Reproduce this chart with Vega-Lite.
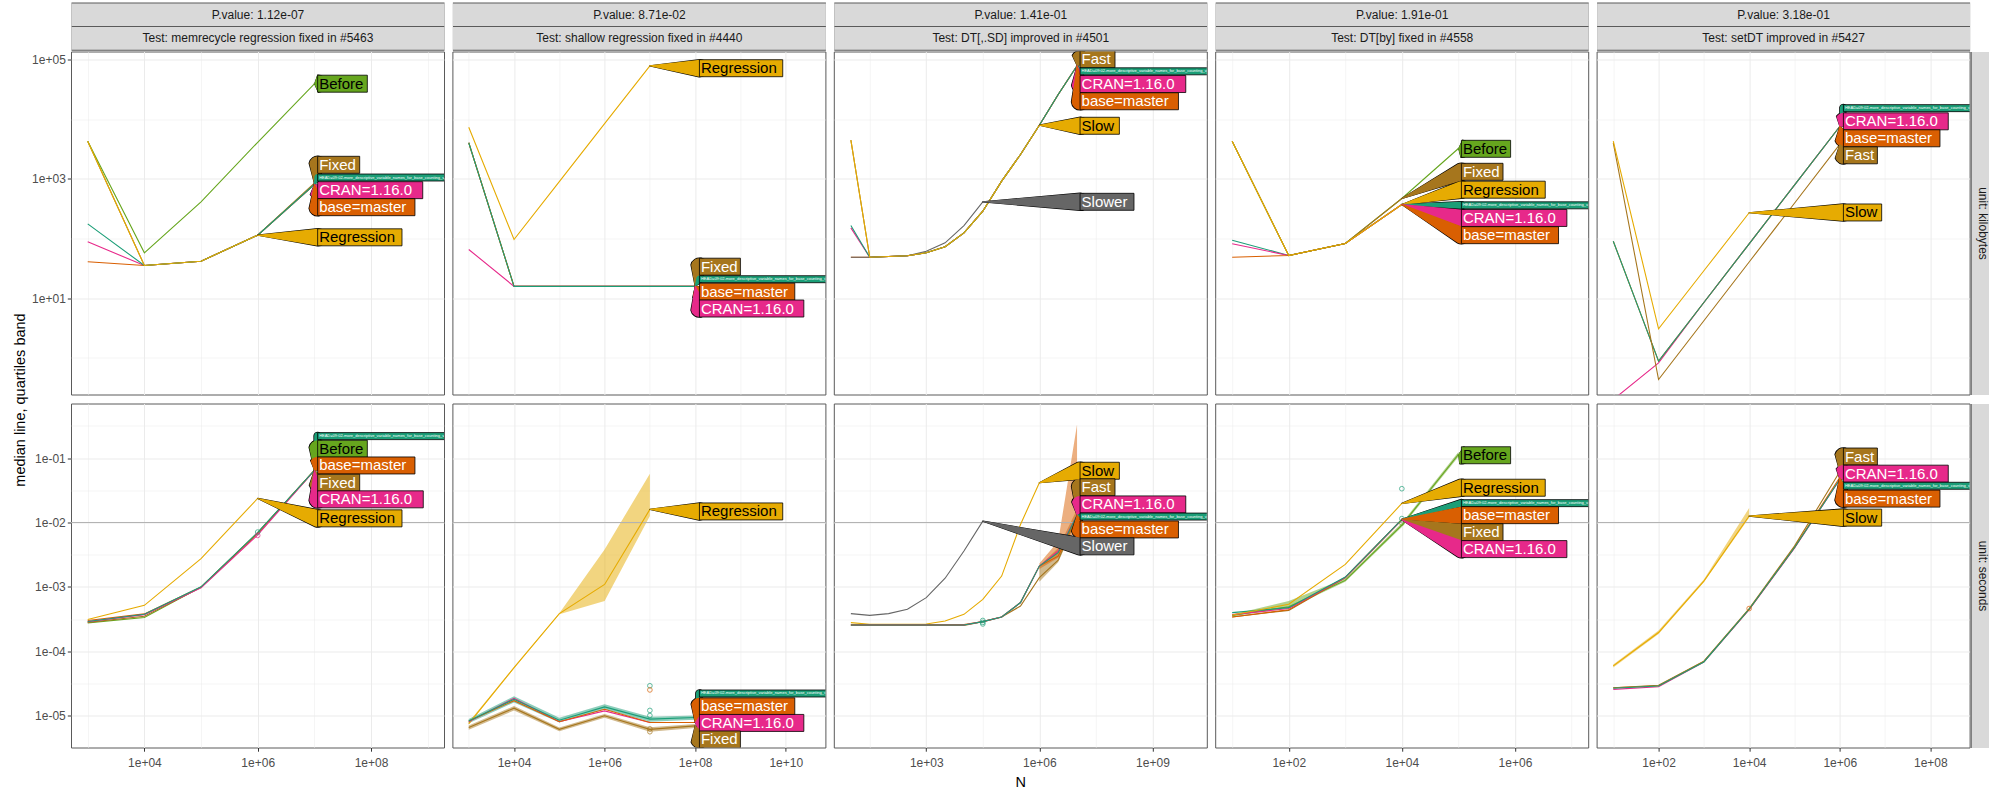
{
"$schema":"https://vega.github.io/schema/vega-lite/v6.json",
"padding":{"left":11,"top":7.5,"right":0,"bottom":0},
"background":"white",
"columns":5,
"spacing":{"row":9,"column":8.4},
"bounds":"flush",
"config":{
"font":"Liberation Sans",
"view":{"stroke":"#5a5a5a","strokeWidth":1,"fill":"white"},
"axis":{"labelFont":"Liberation Sans","labelFontSize":12,"labelColor":"#4d4d4d","tickColor":"#333333","tickSize":3.7,"tickWidth":1,"gridColor":"#ebebeb","labelPadding":2,"titleFont":"Liberation Sans","titleFontSize":14.5,"titleFontWeight":"normal","titleColor":"#000000"},
"axisBottom":{"labelPadding":6},
"legend":{"disable":true},
"text":{"font":"Liberation Sans"}
},
"datasets":{
"lines":[
{"p":"A1","s":"CRAN","N":1e3,"m":88},{"p":"A1","s":"CRAN","N":1e4,"m":35.3},{"p":"A1","s":"CRAN","N":1e5,"m":41.7},{"p":"A1","s":"CRAN","N":1e6,"m":113.7},{"p":"A1","s":"CRAN","N":1e7,"m":804},
{"p":"A1","s":"base","N":1e3,"m":40.7},{"p":"A1","s":"base","N":1e4,"m":35.3},{"p":"A1","s":"base","N":1e5,"m":41.7},{"p":"A1","s":"base","N":1e6,"m":113.7},{"p":"A1","s":"base","N":1e7,"m":804},
{"p":"A1","s":"Fixed","N":1e3,"m":4275},{"p":"A1","s":"Fixed","N":1e4,"m":35.3},{"p":"A1","s":"Fixed","N":1e5,"m":41.7},{"p":"A1","s":"Fixed","N":1e6,"m":113.7},{"p":"A1","s":"Fixed","N":1e7,"m":850},
{"p":"A1","s":"HEAD","N":1e3,"m":176},{"p":"A1","s":"HEAD","N":1e4,"m":35.3},{"p":"A1","s":"HEAD","N":1e5,"m":41.7},{"p":"A1","s":"HEAD","N":1e6,"m":113.7},{"p":"A1","s":"HEAD","N":1e7,"m":804},
{"p":"A1","s":"Before","N":1e3,"m":4275},{"p":"A1","s":"Before","N":1e4,"m":57.5},{"p":"A1","s":"Before","N":1e5,"m":412},{"p":"A1","s":"Before","N":1e6,"m":4100},{"p":"A1","s":"Before","N":1e7,"m":39100},
{"p":"A1","s":"Regression","N":1e3,"m":4275},{"p":"A1","s":"Regression","N":1e4,"m":35.3},{"p":"A1","s":"Regression","N":1e5,"m":41.7},{"p":"A1","s":"Regression","N":1e6,"m":113.7},

{"p":"A2","s":"Fixed","N":1e3,"m":4020},{"p":"A2","s":"Fixed","N":1e4,"m":15.8},{"p":"A2","s":"Fixed","N":1e5,"m":15.8},{"p":"A2","s":"Fixed","N":1e6,"m":15.8},{"p":"A2","s":"Fixed","N":1e7,"m":15.8},{"p":"A2","s":"Fixed","N":1e8,"m":15.8},
{"p":"A2","s":"base","N":1e3,"m":4020},{"p":"A2","s":"base","N":1e4,"m":15.8},{"p":"A2","s":"base","N":1e5,"m":15.8},{"p":"A2","s":"base","N":1e6,"m":15.8},{"p":"A2","s":"base","N":1e7,"m":15.8},{"p":"A2","s":"base","N":1e8,"m":15.8},
{"p":"A2","s":"CRAN","N":1e3,"m":65.5},{"p":"A2","s":"CRAN","N":1e4,"m":15.8},{"p":"A2","s":"CRAN","N":1e5,"m":15.8},{"p":"A2","s":"CRAN","N":1e6,"m":15.8},{"p":"A2","s":"CRAN","N":1e7,"m":15.8},{"p":"A2","s":"CRAN","N":1e8,"m":15.8},
{"p":"A2","s":"HEAD","N":1e3,"m":4020},{"p":"A2","s":"HEAD","N":1e4,"m":15.8},{"p":"A2","s":"HEAD","N":1e5,"m":15.8},{"p":"A2","s":"HEAD","N":1e6,"m":15.8},{"p":"A2","s":"HEAD","N":1e7,"m":15.8},{"p":"A2","s":"HEAD","N":1e8,"m":15.8},
{"p":"A2","s":"Regression","N":1e3,"m":7330},{"p":"A2","s":"Regression","N":1e4,"m":96.2},{"p":"A2","s":"Regression","N":1e5,"m":900},{"p":"A2","s":"Regression","N":1e6,"m":8400},{"p":"A2","s":"Regression","N":1e7,"m":78400},

{"p":"A3","s":"CRAN","N":10,"m":151},{"p":"A3","s":"CRAN","N":31.62,"m":48.6},{"p":"A3","s":"CRAN","N":100,"m":50},{"p":"A3","s":"CRAN","N":316.2,"m":51.3},{"p":"A3","s":"CRAN","N":1000,"m":57.7},{"p":"A3","s":"CRAN","N":3162,"m":72.6},{"p":"A3","s":"CRAN","N":1e4,"m":124},{"p":"A3","s":"CRAN","N":31623,"m":287},{"p":"A3","s":"CRAN","N":1e5,"m":914},{"p":"A3","s":"CRAN","N":316228,"m":2560},{"p":"A3","s":"CRAN","N":1e6,"m":7930},{"p":"A3","s":"CRAN","N":3162278,"m":25900},{"p":"A3","s":"CRAN","N":1e7,"m":78400},
{"p":"A3","s":"base","N":10,"m":48.6},{"p":"A3","s":"base","N":31.62,"m":48.6},{"p":"A3","s":"base","N":100,"m":50},{"p":"A3","s":"base","N":316.2,"m":51.3},{"p":"A3","s":"base","N":1000,"m":57.7},{"p":"A3","s":"base","N":3162,"m":72.6},{"p":"A3","s":"base","N":1e4,"m":124},{"p":"A3","s":"base","N":31623,"m":287},{"p":"A3","s":"base","N":1e5,"m":914},{"p":"A3","s":"base","N":316228,"m":2560},{"p":"A3","s":"base","N":1e6,"m":7930},{"p":"A3","s":"base","N":3162278,"m":25900},{"p":"A3","s":"base","N":1e7,"m":78400},
{"p":"A3","s":"Fast","N":10,"m":4450},{"p":"A3","s":"Fast","N":31.62,"m":48.6},{"p":"A3","s":"Fast","N":100,"m":50},{"p":"A3","s":"Fast","N":316.2,"m":51.3},{"p":"A3","s":"Fast","N":1000,"m":57.7},{"p":"A3","s":"Fast","N":3162,"m":72.6},{"p":"A3","s":"Fast","N":1e4,"m":124},{"p":"A3","s":"Fast","N":31623,"m":287},{"p":"A3","s":"Fast","N":1e5,"m":914},{"p":"A3","s":"Fast","N":316228,"m":2560},{"p":"A3","s":"Fast","N":1e6,"m":7930},{"p":"A3","s":"Fast","N":3162278,"m":25900},{"p":"A3","s":"Fast","N":1e7,"m":78400},
{"p":"A3","s":"HEAD","N":10,"m":165},{"p":"A3","s":"HEAD","N":31.62,"m":48.6},{"p":"A3","s":"HEAD","N":100,"m":50},{"p":"A3","s":"HEAD","N":316.2,"m":51.3},{"p":"A3","s":"HEAD","N":1000,"m":57.7},{"p":"A3","s":"HEAD","N":3162,"m":72.6},{"p":"A3","s":"HEAD","N":1e4,"m":124},{"p":"A3","s":"HEAD","N":31623,"m":287},{"p":"A3","s":"HEAD","N":1e5,"m":914},{"p":"A3","s":"HEAD","N":316228,"m":2560},{"p":"A3","s":"HEAD","N":1e6,"m":7930},{"p":"A3","s":"HEAD","N":3162278,"m":25900},{"p":"A3","s":"HEAD","N":1e7,"m":78400},
{"p":"A3","s":"Slower","N":10,"m":48.6},{"p":"A3","s":"Slower","N":31.62,"m":48.6},{"p":"A3","s":"Slower","N":100,"m":50},{"p":"A3","s":"Slower","N":316.2,"m":51.3},{"p":"A3","s":"Slower","N":1000,"m":61.2},{"p":"A3","s":"Slower","N":3162,"m":84.7},{"p":"A3","s":"Slower","N":1e4,"m":165},{"p":"A3","s":"Slower","N":31623,"m":412},
{"p":"A3","s":"Slow","N":10,"m":4450},{"p":"A3","s":"Slow","N":31.62,"m":48.6},{"p":"A3","s":"Slow","N":100,"m":50},{"p":"A3","s":"Slow","N":316.2,"m":51.3},{"p":"A3","s":"Slow","N":1000,"m":57.7},{"p":"A3","s":"Slow","N":3162,"m":72.6},{"p":"A3","s":"Slow","N":1e4,"m":124},{"p":"A3","s":"Slow","N":31623,"m":287},{"p":"A3","s":"Slow","N":1e5,"m":914},{"p":"A3","s":"Slow","N":316228,"m":2560},{"p":"A3","s":"Slow","N":1e6,"m":7930},

{"p":"A4","s":"HEAD","N":10,"m":93.7},{"p":"A4","s":"HEAD","N":100,"m":51.9},{"p":"A4","s":"HEAD","N":1000,"m":82.4},{"p":"A4","s":"HEAD","N":1e4,"m":372},
{"p":"A4","s":"CRAN","N":10,"m":81.5},{"p":"A4","s":"CRAN","N":100,"m":51.9},{"p":"A4","s":"CRAN","N":1000,"m":82.4},{"p":"A4","s":"CRAN","N":1e4,"m":372},
{"p":"A4","s":"base","N":10,"m":48.6},{"p":"A4","s":"base","N":100,"m":51.9},{"p":"A4","s":"base","N":1000,"m":82.4},{"p":"A4","s":"base","N":1e4,"m":372},
{"p":"A4","s":"Before","N":10,"m":4275},{"p":"A4","s":"Before","N":100,"m":51.9},{"p":"A4","s":"Before","N":1000,"m":82.4},{"p":"A4","s":"Before","N":1e4,"m":469},{"p":"A4","s":"Before","N":1e5,"m":3220},
{"p":"A4","s":"Fixed","N":10,"m":4275},{"p":"A4","s":"Fixed","N":100,"m":51.9},{"p":"A4","s":"Fixed","N":1000,"m":82.4},{"p":"A4","s":"Fixed","N":1e4,"m":469},
{"p":"A4","s":"Regression","N":10,"m":4275},{"p":"A4","s":"Regression","N":100,"m":51.9},{"p":"A4","s":"Regression","N":1000,"m":82.4},{"p":"A4","s":"Regression","N":1e4,"m":372},

{"p":"A5","s":"CRAN","N":10,"m":0.2},{"p":"A5","s":"CRAN","N":100,"m":0.826},{"p":"A5","s":"CRAN","N":1000,"m":8.47},{"p":"A5","s":"CRAN","N":1e4,"m":81.5},{"p":"A5","s":"CRAN","N":1e5,"m":783},{"p":"A5","s":"CRAN","N":1e6,"m":7530},
{"p":"A5","s":"base","N":10,"m":90.2},{"p":"A5","s":"base","N":100,"m":0.88},{"p":"A5","s":"base","N":1000,"m":8.47},{"p":"A5","s":"base","N":1e4,"m":81.5},{"p":"A5","s":"base","N":1e5,"m":783},{"p":"A5","s":"base","N":1e6,"m":7530},
{"p":"A5","s":"HEAD","N":10,"m":90.2},{"p":"A5","s":"HEAD","N":100,"m":0.88},{"p":"A5","s":"HEAD","N":1000,"m":8.47},{"p":"A5","s":"HEAD","N":1e4,"m":81.5},{"p":"A5","s":"HEAD","N":1e5,"m":783},{"p":"A5","s":"HEAD","N":1e6,"m":7530},
{"p":"A5","s":"Fast","N":10,"m":4020},{"p":"A5","s":"Fast","N":100,"m":0.434},{"p":"A5","s":"Fast","N":1000,"m":4.19},{"p":"A5","s":"Fast","N":1e4,"m":40.4},{"p":"A5","s":"Fast","N":1e5,"m":390},{"p":"A5","s":"Fast","N":1e6,"m":3770},
{"p":"A5","s":"Slow","N":10,"m":4275},{"p":"A5","s":"Slow","N":100,"m":3.07},{"p":"A5","s":"Slow","N":1000,"m":28.8},{"p":"A5","s":"Slow","N":1e4,"m":270},

{"p":"B1","s":"Before","N":1e3,"m":2.75e-4},{"p":"B1","s":"Before","N":1e4,"m":3.33e-4},{"p":"B1","s":"Before","N":1e5,"m":9.9e-4},{"p":"B1","s":"Before","N":1e6,"m":6.9e-3},{"p":"B1","s":"Before","N":1e7,"m":0.0644},
{"p":"B1","s":"Fixed","N":1e3,"m":2.8e-4},{"p":"B1","s":"Fixed","N":1e4,"m":3.5e-4},{"p":"B1","s":"Fixed","N":1e5,"m":9.8e-4},{"p":"B1","s":"Fixed","N":1e6,"m":6.8e-3},{"p":"B1","s":"Fixed","N":1e7,"m":0.0644},
{"p":"B1","s":"base","N":1e3,"m":3.0e-4},{"p":"B1","s":"base","N":1e4,"m":3.8e-4},{"p":"B1","s":"base","N":1e5,"m":9.9e-4},{"p":"B1","s":"base","N":1e6,"m":6.9e-3},{"p":"B1","s":"base","N":1e7,"m":0.0644},
{"p":"B1","s":"CRAN","N":1e3,"m":2.88e-4},{"p":"B1","s":"CRAN","N":1e4,"m":3.7e-4},{"p":"B1","s":"CRAN","N":1e5,"m":9.7e-4},{"p":"B1","s":"CRAN","N":1e6,"m":6.4e-3},{"p":"B1","s":"CRAN","N":1e7,"m":0.064},
{"p":"B1","s":"HEAD","N":1e3,"m":2.9e-4},{"p":"B1","s":"HEAD","N":1e4,"m":3.75e-4},{"p":"B1","s":"HEAD","N":1e5,"m":1.0e-3},{"p":"B1","s":"HEAD","N":1e6,"m":7.0e-3},{"p":"B1","s":"HEAD","N":1e7,"m":0.0644},
{"p":"B1","s":"Regression","N":1e3,"m":3.1e-4},{"p":"B1","s":"Regression","N":1e4,"m":5.16e-4},{"p":"B1","s":"Regression","N":1e5,"m":2.74e-3},{"p":"B1","s":"Regression","N":1e6,"m":0.0237},

{"p":"B2","s":"Regression","N":1e3,"m":7.5e-6,"lo":7.2e-6,"hi":7.9e-6},{"p":"B2","s":"Regression","N":1e4,"m":5.56e-5,"lo":5.4e-5,"hi":5.7e-5},{"p":"B2","s":"Regression","N":1e5,"m":3.83e-4,"lo":3.75e-4,"hi":3.9e-4},{"p":"B2","s":"Regression","N":1e6,"m":1.09e-3,"lo":6.03e-4,"hi":3.82e-3},{"p":"B2","s":"Regression","N":1e7,"m":0.016,"lo":0.0126,"hi":0.0573},
{"p":"B2","s":"Fixed","N":1e3,"m":6.5e-6,"lo":6.0e-6,"hi":7.0e-6},{"p":"B2","s":"Fixed","N":1e4,"m":1.3e-5,"lo":1.2e-5,"hi":1.4e-5},{"p":"B2","s":"Fixed","N":1e5,"m":6.1e-6,"lo":5.7e-6,"hi":6.5e-6},{"p":"B2","s":"Fixed","N":1e6,"m":9.9e-6,"lo":9.2e-6,"hi":1.06e-5},{"p":"B2","s":"Fixed","N":1e7,"m":6.1e-6,"lo":5.6e-6,"hi":6.6e-6},{"p":"B2","s":"Fixed","N":1e8,"m":6.9e-6,"lo":6.4e-6,"hi":7.4e-6},
{"p":"B2","s":"CRAN","N":1e3,"m":8.0e-6},{"p":"B2","s":"CRAN","N":1e4,"m":1.85e-5},{"p":"B2","s":"CRAN","N":1e5,"m":8.0e-6},{"p":"B2","s":"CRAN","N":1e6,"m":1.18e-5},{"p":"B2","s":"CRAN","N":1e7,"m":7.8e-6},{"p":"B2","s":"CRAN","N":1e8,"m":7.8e-6},
{"p":"B2","s":"base","N":1e3,"m":8.2e-6},{"p":"B2","s":"base","N":1e4,"m":1.7e-5},{"p":"B2","s":"base","N":1e5,"m":8.0e-6},{"p":"B2","s":"base","N":1e6,"m":1.25e-5},{"p":"B2","s":"base","N":1e7,"m":7.8e-6},{"p":"B2","s":"base","N":1e8,"m":7.8e-6},
{"p":"B2","s":"HEAD","N":1e3,"m":8.2e-6,"lo":7.6e-6,"hi":8.8e-6},{"p":"B2","s":"HEAD","N":1e4,"m":1.79e-5,"lo":1.6e-5,"hi":2.0e-5},{"p":"B2","s":"HEAD","N":1e5,"m":8.45e-6,"lo":7.8e-6,"hi":9.2e-6},{"p":"B2","s":"HEAD","N":1e6,"m":1.36e-5,"lo":1.25e-5,"hi":1.5e-5},{"p":"B2","s":"HEAD","N":1e7,"m":8.8e-6,"lo":8.0e-6,"hi":9.6e-6},{"p":"B2","s":"HEAD","N":1e8,"m":9.3e-6,"lo":8.6e-6,"hi":1.0e-5},

{"p":"B3","s":"Slower","N":10,"m":3.84e-4},{"p":"B3","s":"Slower","N":31.62,"m":3.6e-4},{"p":"B3","s":"Slower","N":100,"m":3.84e-4},{"p":"B3","s":"Slower","N":316.2,"m":4.48e-4},{"p":"B3","s":"Slower","N":1000,"m":6.8e-4},{"p":"B3","s":"Slower","N":3162,"m":1.36e-3},{"p":"B3","s":"Slower","N":1e4,"m":3.6e-3},{"p":"B3","s":"Slower","N":31623,"m":0.0105},
{"p":"B3","s":"Slow","N":10,"m":2.78e-4},{"p":"B3","s":"Slow","N":31.62,"m":2.62e-4},{"p":"B3","s":"Slow","N":100,"m":2.62e-4},{"p":"B3","s":"Slow","N":316.2,"m":2.62e-4},{"p":"B3","s":"Slow","N":1000,"m":2.65e-4},{"p":"B3","s":"Slow","N":3162,"m":2.94e-4},{"p":"B3","s":"Slow","N":1e4,"m":3.74e-4},{"p":"B3","s":"Slow","N":31623,"m":6.4e-4},{"p":"B3","s":"Slow","N":1e5,"m":1.47e-3},{"p":"B3","s":"Slow","N":316228,"m":9.3e-3},{"p":"B3","s":"Slow","N":1e6,"m":0.0415},
{"p":"B3","s":"Fast","N":10,"m":2.5e-4},{"p":"B3","s":"Fast","N":31.62,"m":2.5e-4},{"p":"B3","s":"Fast","N":100,"m":2.5e-4},{"p":"B3","s":"Fast","N":316.2,"m":2.5e-4},{"p":"B3","s":"Fast","N":1000,"m":2.5e-4},{"p":"B3","s":"Fast","N":3162,"m":2.5e-4},{"p":"B3","s":"Fast","N":1e4,"m":2.5e-4},{"p":"B3","s":"Fast","N":31623,"m":2.88e-4},{"p":"B3","s":"Fast","N":1e5,"m":3.4e-4},{"p":"B3","s":"Fast","N":316228,"m":5.03e-4},{"p":"B3","s":"Fast","N":1e6,"m":1.39e-3,"lo":1.2e-3,"hi":2.1e-3},{"p":"B3","s":"Fast","N":3162278,"m":2.6e-3,"lo":2.4e-3,"hi":4.0e-3},{"p":"B3","s":"Fast","N":1e7,"m":0.013,"lo":0.011,"hi":0.016},
{"p":"B3","s":"base","N":10,"m":2.6e-4},{"p":"B3","s":"base","N":31.62,"m":2.6e-4},{"p":"B3","s":"base","N":100,"m":2.6e-4},{"p":"B3","s":"base","N":316.2,"m":2.6e-4},{"p":"B3","s":"base","N":1000,"m":2.6e-4},{"p":"B3","s":"base","N":3162,"m":2.6e-4},{"p":"B3","s":"base","N":1e4,"m":2.6e-4},{"p":"B3","s":"base","N":31623,"m":2.88e-4},{"p":"B3","s":"base","N":1e5,"m":3.4e-4},{"p":"B3","s":"base","N":316228,"m":5.7e-4},{"p":"B3","s":"base","N":1e6,"m":2.1e-3,"lo":1.9e-3,"hi":2.3e-3},{"p":"B3","s":"base","N":3162278,"m":3.0e-3,"lo":2.84e-3,"hi":5.1e-3},{"p":"B3","s":"base","N":1e7,"m":0.013,"lo":8.3e-3,"hi":0.333},
{"p":"B3","s":"CRAN","N":10,"m":2.55e-4},{"p":"B3","s":"CRAN","N":31.62,"m":2.55e-4},{"p":"B3","s":"CRAN","N":100,"m":2.55e-4},{"p":"B3","s":"CRAN","N":316.2,"m":2.55e-4},{"p":"B3","s":"CRAN","N":1000,"m":2.55e-4},{"p":"B3","s":"CRAN","N":3162,"m":2.55e-4},{"p":"B3","s":"CRAN","N":1e4,"m":2.55e-4},{"p":"B3","s":"CRAN","N":31623,"m":2.88e-4},{"p":"B3","s":"CRAN","N":1e5,"m":3.4e-4},{"p":"B3","s":"CRAN","N":316228,"m":5.7e-4},{"p":"B3","s":"CRAN","N":1e6,"m":2.1e-3},{"p":"B3","s":"CRAN","N":3162278,"m":3.6e-3},{"p":"B3","s":"CRAN","N":1e7,"m":0.013},
{"p":"B3","s":"HEAD","N":10,"m":2.55e-4},{"p":"B3","s":"HEAD","N":31.62,"m":2.55e-4},{"p":"B3","s":"HEAD","N":100,"m":2.55e-4},{"p":"B3","s":"HEAD","N":316.2,"m":2.55e-4},{"p":"B3","s":"HEAD","N":1000,"m":2.55e-4},{"p":"B3","s":"HEAD","N":3162,"m":2.55e-4},{"p":"B3","s":"HEAD","N":1e4,"m":2.55e-4},{"p":"B3","s":"HEAD","N":31623,"m":2.88e-4},{"p":"B3","s":"HEAD","N":1e5,"m":3.4e-4},{"p":"B3","s":"HEAD","N":316228,"m":5.7e-4},{"p":"B3","s":"HEAD","N":1e6,"m":2.1e-3},{"p":"B3","s":"HEAD","N":3162278,"m":3.4e-3},{"p":"B3","s":"HEAD","N":1e7,"m":0.013},

{"p":"B4","s":"Before","N":10,"m":3.6e-4,"lo":3.5e-4,"hi":3.7e-4},{"p":"B4","s":"Before","N":100,"m":4.9e-4,"lo":4.6e-4,"hi":6.0e-4},{"p":"B4","s":"Before","N":1000,"m":1.26e-3,"lo":1.2e-3,"hi":1.35e-3},{"p":"B4","s":"Before","N":1e4,"m":9.1e-3,"lo":8.5e-3,"hi":9.8e-3},{"p":"B4","s":"Before","N":1e5,"m":0.114,"lo":0.105,"hi":0.125},
{"p":"B4","s":"Fixed","N":10,"m":3.4e-4},{"p":"B4","s":"Fixed","N":100,"m":4.31e-4},{"p":"B4","s":"Fixed","N":1000,"m":1.38e-3},{"p":"B4","s":"Fixed","N":1e4,"m":0.011},
{"p":"B4","s":"base","N":10,"m":3.4e-4},{"p":"B4","s":"base","N":100,"m":4.4e-4},{"p":"B4","s":"base","N":1000,"m":1.4e-3},{"p":"B4","s":"base","N":1e4,"m":0.0112},
{"p":"B4","s":"CRAN","N":10,"m":3.7e-4},{"p":"B4","s":"CRAN","N":100,"m":4.6e-4},{"p":"B4","s":"CRAN","N":1000,"m":1.4e-3},{"p":"B4","s":"CRAN","N":1e4,"m":0.011},
{"p":"B4","s":"HEAD","N":10,"m":3.97e-4},{"p":"B4","s":"HEAD","N":100,"m":4.75e-4},{"p":"B4","s":"HEAD","N":1000,"m":1.42e-3},{"p":"B4","s":"HEAD","N":1e4,"m":0.0112},
{"p":"B4","s":"Regression","N":10,"m":3.65e-4},{"p":"B4","s":"Regression","N":100,"m":5.35e-4},{"p":"B4","s":"Regression","N":1000,"m":2.23e-3},{"p":"B4","s":"Regression","N":1e4,"m":0.0198},

{"p":"B5","s":"CRAN","N":10,"m":2.55e-5},{"p":"B5","s":"CRAN","N":100,"m":2.8e-5},{"p":"B5","s":"CRAN","N":1000,"m":6.8e-5},{"p":"B5","s":"CRAN","N":1e4,"m":4.4e-4},{"p":"B5","s":"CRAN","N":1e5,"m":4.0e-3},{"p":"B5","s":"CRAN","N":1e6,"m":0.0467},
{"p":"B5","s":"base","N":10,"m":2.7e-5},{"p":"B5","s":"base","N":100,"m":2.9e-5},{"p":"B5","s":"base","N":1000,"m":6.9e-5},{"p":"B5","s":"base","N":1e4,"m":4.5e-4},{"p":"B5","s":"base","N":1e5,"m":4.1e-3},{"p":"B5","s":"base","N":1e6,"m":0.05},
{"p":"B5","s":"Fast","N":10,"m":2.7e-5},{"p":"B5","s":"Fast","N":100,"m":2.95e-5},{"p":"B5","s":"Fast","N":1000,"m":7.0e-5},{"p":"B5","s":"Fast","N":1e4,"m":4.6e-4},{"p":"B5","s":"Fast","N":1e5,"m":4.3e-3},{"p":"B5","s":"Fast","N":1e6,"m":0.0615},
{"p":"B5","s":"HEAD","N":10,"m":2.65e-5},{"p":"B5","s":"HEAD","N":100,"m":2.88e-5},{"p":"B5","s":"HEAD","N":1000,"m":6.8e-5},{"p":"B5","s":"HEAD","N":1e4,"m":4.48e-4},{"p":"B5","s":"HEAD","N":1e5,"m":4.05e-3},{"p":"B5","s":"HEAD","N":1e6,"m":0.0467},
{"p":"B5","s":"Slow","N":10,"m":5.9e-5,"lo":5.6e-5,"hi":6.2e-5},{"p":"B5","s":"Slow","N":100,"m":1.95e-4,"lo":1.85e-4,"hi":2.1e-4},{"p":"B5","s":"Slow","N":1000,"m":1.23e-3,"lo":1.18e-3,"hi":1.3e-3},{"p":"B5","s":"Slow","N":1e4,"m":0.0126,"lo":0.0118,"hi":0.0168}
],
"labs":[
{"p":"A1","s":"Before","t":"Before","ax":1e7,"ay":39100,"lx":1.143e7,"ly":39300,"lx2":8.61e7},
{"p":"A1","s":"Fixed","t":"Fixed","ax":1e7,"ay":850,"lx":1.143e7,"ly":1718,"lx2":6.31e7},
{"p":"A1","s":"HEAD","t":"HEAD=09:02-more_descriptive_variable_names_for_base_counting_variables","ax":1e7,"ay":804,"lx":1.143e7,"ly":1052,"lx2":1e12},
{"p":"A1","s":"CRAN","t":"CRAN=1.16.0","ax":1e7,"ay":804,"lx":1.143e7,"ly":646,"lx2":8.18e8},
{"p":"A1","s":"base","t":"base=master","ax":1e7,"ay":804,"lx":1.143e7,"ly":335,"lx2":5.96e8},
{"p":"A1","s":"Regression","t":"Regression","ax":1e6,"ay":113.7,"lx":1.143e7,"ly":104.7,"lx2":3.52e8},
{"p":"A2","s":"Regression","t":"Regression","ax":1e7,"ay":78400,"lx":1.242e8,"ly":71400,"lx2":8.59e9},
{"p":"A2","s":"Fixed","t":"Fixed","ax":1e8,"ay":15.8,"lx":1.242e8,"ly":33.7,"lx2":9.98e8},
{"p":"A2","s":"HEAD","t":"HEAD=09:02-more_descriptive_variable_names_for_base_counting_variables","ax":1e8,"ay":15.8,"lx":1.242e8,"ly":20.8,"lx2":1e13},
{"p":"A2","s":"base","t":"base=master","ax":1e8,"ay":15.8,"lx":1.242e8,"ly":12.85,"lx2":1.585e10},
{"p":"A2","s":"CRAN","t":"CRAN=1.16.0","ax":1e8,"ay":15.8,"lx":1.242e8,"ly":6.71,"lx2":2.51e10},
{"p":"A3","s":"Fast","t":"Fast","ax":1e7,"ay":78400,"lx":1.202e7,"ly":101000,"lx2":1.016e8},
{"p":"A3","s":"HEAD","t":"HEAD=09:02-more_descriptive_variable_names_for_base_counting_variables","ax":1e7,"ay":78400,"lx":1.202e7,"ly":63400,"lx2":1e12},
{"p":"A3","s":"CRAN","t":"CRAN=1.16.0","ax":1e7,"ay":78400,"lx":1.202e7,"ly":38800,"lx2":7.66e9},
{"p":"A3","s":"base","t":"base=master","ax":1e7,"ay":78400,"lx":1.202e7,"ly":19950,"lx2":4.9e9},
{"p":"A3","s":"Slow","t":"Slow","ax":1e6,"ay":7930,"lx":1.202e7,"ly":7750,"lx2":1.327e8},
{"p":"A3","s":"Slower","t":"Slower","ax":31623,"ay":412,"lx":1.202e7,"ly":412,"lx2":3.24e8},
{"p":"A4","s":"Before","t":"Before","ax":1e5,"ay":3220,"lx":1.13e5,"ly":3185,"lx2":8.38e5},
{"p":"A4","s":"Fixed","t":"Fixed","ax":1e4,"ay":469,"lx":1.13e5,"ly":1312,"lx2":6.15e5},
{"p":"A4","s":"Regression","t":"Regression","ax":1e4,"ay":372,"lx":1.13e5,"ly":658,"lx2":3.43e6},
{"p":"A4","s":"HEAD","t":"HEAD=09:02-more_descriptive_variable_names_for_base_counting_variables","ax":1e4,"ay":372,"lx":1.13e5,"ly":360,"lx2":1e9},
{"p":"A4","s":"CRAN","t":"CRAN=1.16.0","ax":1e4,"ay":372,"lx":1.13e5,"ly":221,"lx2":8.28e6},
{"p":"A4","s":"base","t":"base=master","ax":1e4,"ay":372,"lx":1.13e5,"ly":113.7,"lx2":5.89e6},
{"p":"A5","s":"HEAD","t":"HEAD=09:02-more_descriptive_variable_names_for_base_counting_variables","ax":1e6,"ay":7530,"lx":1.205e6,"ly":15300,"lx2":1e10},
{"p":"A5","s":"CRAN","t":"CRAN=1.16.0","ax":1e6,"ay":7530,"lx":1.205e6,"ly":9200,"lx2":2.49e8},
{"p":"A5","s":"base","t":"base=master","ax":1e6,"ay":7530,"lx":1.205e6,"ly":4780,"lx2":1.633e8},
{"p":"A5","s":"Fast","t":"Fast","ax":1e6,"ay":3770,"lx":1.205e6,"ly":2480,"lx2":6.78e6},
{"p":"A5","s":"Slow","t":"Slow","ax":1e4,"ay":270,"lx":1.205e6,"ly":273,"lx2":8.43e6},
{"p":"B1","s":"HEAD","t":"HEAD=09:02-more_descriptive_variable_names_for_base_counting_variables","ax":1e7,"ay":0.0644,"lx":1.143e7,"ly":0.22,"lx2":1e12},
{"p":"B1","s":"Before","t":"Before","ax":1e7,"ay":0.0644,"lx":1.143e7,"ly":0.14,"lx2":8.61e7},
{"p":"B1","s":"base","t":"base=master","ax":1e7,"ay":0.0644,"lx":1.143e7,"ly":0.077,"lx2":5.96e8},
{"p":"B1","s":"Fixed","t":"Fixed","ax":1e7,"ay":0.0644,"lx":1.143e7,"ly":0.0415,"lx2":6.31e7},
{"p":"B1","s":"CRAN","t":"CRAN=1.16.0","ax":1e7,"ay":0.064,"lx":1.143e7,"ly":0.0229,"lx2":8.36e8},
{"p":"B1","s":"Regression","t":"Regression","ax":1e6,"ay":0.0237,"lx":1.143e7,"ly":0.0116,"lx2":3.52e8},
{"p":"B2","s":"HEAD","t":"HEAD=09:02-more_descriptive_variable_names_for_base_counting_variables","ax":1e8,"ay":9.3e-6,"lx":1.242e8,"ly":2.2e-5,"lx2":1e13},
{"p":"B2","s":"base","t":"base=master","ax":1e8,"ay":7.8e-6,"lx":1.242e8,"ly":1.39e-5,"lx2":1.585e10},
{"p":"B2","s":"CRAN","t":"CRAN=1.16.0","ax":1e8,"ay":7.8e-6,"lx":1.242e8,"ly":7.67e-6,"lx2":2.51e10},
{"p":"B2","s":"Fixed","t":"Fixed","ax":1e8,"ay":6.9e-6,"lx":1.242e8,"ly":4.24e-6,"lx2":9.98e8},
{"p":"B2","s":"Regression","t":"Regression","ax":1e7,"ay":0.016,"lx":1.242e8,"ly":0.01486,"lx2":8.59e9},
{"p":"B3","s":"Slow","t":"Slow","ax":1e6,"ay":0.0415,"lx":1.202e7,"ly":0.0637,"lx2":1.327e8},
{"p":"B3","s":"Fast","t":"Fast","ax":1e7,"ay":0.013,"lx":1.202e7,"ly":0.0353,"lx2":1.016e8},
{"p":"B3","s":"CRAN","t":"CRAN=1.16.0","ax":1e7,"ay":0.013,"lx":1.202e7,"ly":0.0191,"lx2":7.66e9},
{"p":"B3","s":"HEAD","t":"HEAD=09:02-more_descriptive_variable_names_for_base_counting_variables","ax":1e7,"ay":0.013,"lx":1.202e7,"ly":0.01236,"lx2":1e12},
{"p":"B3","s":"base","t":"base=master","ax":1e7,"ay":0.013,"lx":1.202e7,"ly":0.0078,"lx2":4.9e9},
{"p":"B3","s":"Slower","t":"Slower","ax":31623,"ay":0.0105,"lx":1.202e7,"ly":0.00426,"lx2":3.24e8},
{"p":"B4","s":"Before","t":"Before","ax":1e5,"ay":0.114,"lx":1.13e5,"ly":0.111,"lx2":8.38e5},
{"p":"B4","s":"Regression","t":"Regression","ax":1e4,"ay":0.0198,"lx":1.13e5,"ly":0.0347,"lx2":3.43e6},
{"p":"B4","s":"HEAD","t":"HEAD=09:02-more_descriptive_variable_names_for_base_counting_variables","ax":1e4,"ay":0.0112,"lx":1.13e5,"ly":0.02,"lx2":1e9},
{"p":"B4","s":"base","t":"base=master","ax":1e4,"ay":0.0112,"lx":1.13e5,"ly":0.013,"lx2":5.89e6},
{"p":"B4","s":"Fixed","t":"Fixed","ax":1e4,"ay":0.011,"lx":1.13e5,"ly":0.00706,"lx2":6.15e5},
{"p":"B4","s":"CRAN","t":"CRAN=1.16.0","ax":1e4,"ay":0.011,"lx":1.13e5,"ly":0.00386,"lx2":8.28e6},
{"p":"B5","s":"Fast","t":"Fast","ax":1e6,"ay":0.0615,"lx":1.205e6,"ly":0.106,"lx2":6.78e6},
{"p":"B5","s":"CRAN","t":"CRAN=1.16.0","ax":1e6,"ay":0.0467,"lx":1.205e6,"ly":0.0574,"lx2":2.49e8},
{"p":"B5","s":"HEAD","t":"HEAD=09:02-more_descriptive_variable_names_for_base_counting_variables","ax":1e6,"ay":0.0467,"lx":1.205e6,"ly":0.0372,"lx2":1e10},
{"p":"B5","s":"base","t":"base=master","ax":1e6,"ay":0.05,"lx":1.205e6,"ly":0.0235,"lx2":1.633e8},
{"p":"B5","s":"Slow","t":"Slow","ax":1e4,"ay":0.0126,"lx":1.205e6,"ly":0.0119,"lx2":8.43e6}
],
"pts":[
{"p":"B1","s":"HEAD","N":1e6,"v":7.1e-3},{"p":"B1","s":"CRAN","N":1e6,"v":6.3e-3},
{"p":"B2","s":"HEAD","N":1e7,"v":2.9e-5},{"p":"B2","s":"base","N":1e7,"v":2.5e-5},{"p":"B2","s":"HEAD","N":1e7,"v":1.2e-5},{"p":"B2","s":"HEAD","N":1e7,"v":1.0e-5},{"p":"B2","s":"Fixed","N":1e7,"v":6.2e-6},{"p":"B2","s":"Fixed","N":1e7,"v":5.6e-6},
{"p":"B3","s":"HEAD","N":31623,"v":3.0e-4},{"p":"B3","s":"HEAD","N":31623,"v":2.8e-4},{"p":"B3","s":"HEAD","N":31623,"v":2.65e-4},
{"p":"B4","s":"HEAD","N":1e4,"v":0.0335},{"p":"B4","s":"HEAD","N":1e4,"v":0.0115},{"p":"B4","s":"Before","N":1e4,"v":0.0098},
{"p":"B5","s":"base","N":1e4,"v":4.6e-4}
]
},
"concat":[
{"width":373,"height":343,"resolve":{"axis":{"x":"independent","y":"independent"}},"layer":[
{"data":{"name":"lines"},"transform":[{"filter":"datum.p=='A1'"}],"mark":{"type":"line","strokeWidth":1.1,"clip":true},"encoding":{
"x":{"field":"N","type":"quantitative","scale":{"type":"log","domain":[507,1.941e9],"nice":false},"axis":{"orient":"bottom","values":[1e3,1e4,1e5,1e6,1e7,1e8,1e9],"grid":true,"gridWidth":{"condition":{"test":"abs(log(datum.value)/LN10/2-round(log(datum.value)/LN10/2))<0.01","value":1},"value":0.5},"labels":false,"ticks":false,"domain":false,"title":null,"zindex":0}},
"y":{"field":"m","type":"quantitative","scale":{"type":"log","domain":[0.2432,136100],"nice":false},"axis":{"orient":"left","values":[1,10,100,1e3,1e4,1e5],"grid":true,"gridWidth":{"condition":{"test":"abs((log(datum.value)/LN10-1)/2-round((log(datum.value)/LN10-1)/2))<0.01","value":1},"value":0.5},"tickOpacity":{"condition":{"test":"abs((log(datum.value)/LN10-1)/2-round((log(datum.value)/LN10-1)/2))<0.01","value":1},"value":0},"labelExpr":"abs((log(datum.value)/LN10-1)/2-round((log(datum.value)/LN10-1)/2))<0.01?'1e'+(round(log(datum.value)/LN10)<0?'-':'+')+(abs(round(log(datum.value)/LN10))<10?'0':'')+abs(round(log(datum.value)/LN10)):''","labelOverlap":false,"labelFlush":false,"domain":false,"title":null,"zindex":0}},
"color":{"field":"s","type":"nominal","scale":{"domain":["HEAD","base","CRAN","Before","Regression","Fixed","Slow","Fast","Slower"],"range":["#1b9e77","#d95f02","#e7298a","#66a61e","#e6ab02","#a6761d","#e6ab02","#a6761d","#666666"]}}}},
{"data":{"name":"labs"},"transform":[{"filter":"datum.p=='A1'"},{"fold":["ax","lx"],"as":["k","xx"]},{"calculate":"datum.k=='ax'?datum.ay:datum.ly","as":"yy"}],"mark":{"type":"trail","clip":true,"color":"#000000"},"encoding":{
"x":{"field":"xx","type":"quantitative","axis":null},"y":{"field":"yy","type":"quantitative","axis":null},"detail":{"field":"s"},
"size":{"condition":[{"test":"datum.k=='ax'","value":1.2},{"test":"datum.s=='HEAD'","value":8.6}],"value":18.6}}},
{"data":{"name":"labs"},"transform":[{"filter":"datum.p=='A1'"},{"fold":["ax","lx"],"as":["k","xx"]},{"calculate":"datum.k=='ax'?datum.ay:datum.ly","as":"yy"}],"mark":{"type":"trail","clip":true},"encoding":{
"x":{"field":"xx","type":"quantitative","axis":{"orient":"top","offset":25.4,"domain":true,"domainColor":"#5a5a5a","domainWidth":48.2,"grid":false,"labels":false,"ticks":false,"title":null,"zindex":1}},
"y":{"field":"yy","type":"quantitative","axis":null},
"size":{"condition":[{"test":"datum.k=='ax'","value":0},{"test":"datum.s=='HEAD'","value":7}],"value":17},
"color":{"field":"s","type":"nominal"}}},
{"data":{"name":"labs"},"transform":[{"filter":"datum.p=='A1'"}],"mark":{"type":"rect","clip":true,"stroke":"#000000","strokeWidth":0.8,"height":{"expr":"datum.s=='HEAD'?7:17"}},"encoding":{
"x":{"field":"lx","type":"quantitative","axis":{"orient":"top","offset":13.6,"domain":true,"domainColor":"#d9d9d9","domainWidth":22.6,"grid":false,"labels":false,"ticks":false,"title":"Test: memrecycle regression fixed in #5463","titleX":186.5,"titleY":0,"titleAlign":"center","titleBaseline":"middle","titleAngle":0,"titleFontSize":12,"titleColor":"#1a1a1a","zindex":1}},
"x2":{"field":"lx2"},
"y":{"field":"ly","type":"quantitative","axis":null},
"color":{"field":"s","type":"nominal"}}},
{"data":{"name":"labs"},"transform":[{"filter":"datum.p=='A1'"}],"mark":{"type":"text","clip":true,"align":"left","baseline":"middle","dx":1.5},"encoding":{
"x":{"field":"lx","type":"quantitative","axis":{"orient":"top","offset":37.2,"domain":true,"domainColor":"#d9d9d9","domainWidth":22.6,"grid":false,"labels":false,"ticks":false,"title":"P.value: 1.12e-07","titleX":186.5,"titleY":0,"titleAlign":"center","titleBaseline":"middle","titleAngle":0,"titleFontSize":12,"titleColor":"#1a1a1a","zindex":1}},
"y":{"field":"ly","type":"quantitative","axis":null},
"text":{"field":"t"},
"size":{"condition":{"test":"datum.s=='HEAD'","value":4},"value":15},
"color":{"condition":{"test":"datum.s=='Before'||datum.s=='Regression'||datum.s=='Slow'","value":"#000000"},"value":"#ffffff"}}}
]},

{"width":373,"height":343,"resolve":{"axis":{"x":"independent","y":"independent"}},"layer":[
{"data":{"name":"lines"},"transform":[{"filter":"datum.p=='A2'"}],"mark":{"type":"line","strokeWidth":1.1,"clip":true},"encoding":{
"x":{"field":"N","type":"quantitative","scale":{"type":"log","domain":[435.5,7.516e10],"nice":false},"axis":{"orient":"bottom","values":[1e3,1e4,1e5,1e6,1e7,1e8,1e9,1e10],"grid":true,"gridWidth":{"condition":{"test":"abs(log(datum.value)/LN10/2-round(log(datum.value)/LN10/2))<0.01","value":1},"value":0.5},"labels":false,"ticks":false,"domain":false,"title":null,"zindex":0}},
"y":{"field":"m","type":"quantitative","scale":{"type":"log","domain":[0.2432,136100],"nice":false},"axis":{"orient":"left","values":[1,10,100,1e3,1e4,1e5],"grid":true,"gridWidth":{"condition":{"test":"abs((log(datum.value)/LN10-1)/2-round((log(datum.value)/LN10-1)/2))<0.01","value":1},"value":0.5},"labels":false,"ticks":false,"domain":false,"title":null,"zindex":0}},
"color":{"field":"s","type":"nominal","scale":{"domain":["HEAD","base","CRAN","Before","Regression","Fixed","Slow","Fast","Slower"],"range":["#1b9e77","#d95f02","#e7298a","#66a61e","#e6ab02","#a6761d","#e6ab02","#a6761d","#666666"]}}}},
{"data":{"name":"labs"},"transform":[{"filter":"datum.p=='A2'"},{"fold":["ax","lx"],"as":["k","xx"]},{"calculate":"datum.k=='ax'?datum.ay:datum.ly","as":"yy"}],"mark":{"type":"trail","clip":true,"color":"#000000"},"encoding":{
"x":{"field":"xx","type":"quantitative","axis":null},"y":{"field":"yy","type":"quantitative","axis":null},"detail":{"field":"s"},
"size":{"condition":[{"test":"datum.k=='ax'","value":1.2},{"test":"datum.s=='HEAD'","value":8.6}],"value":18.6}}},
{"data":{"name":"labs"},"transform":[{"filter":"datum.p=='A2'"},{"fold":["ax","lx"],"as":["k","xx"]},{"calculate":"datum.k=='ax'?datum.ay:datum.ly","as":"yy"}],"mark":{"type":"trail","clip":true},"encoding":{
"x":{"field":"xx","type":"quantitative","axis":{"orient":"top","offset":25.4,"domain":true,"domainColor":"#5a5a5a","domainWidth":48.2,"grid":false,"labels":false,"ticks":false,"title":null,"zindex":1}},
"y":{"field":"yy","type":"quantitative","axis":null},
"size":{"condition":[{"test":"datum.k=='ax'","value":0},{"test":"datum.s=='HEAD'","value":7}],"value":17},
"color":{"field":"s","type":"nominal"}}},
{"data":{"name":"labs"},"transform":[{"filter":"datum.p=='A2'"}],"mark":{"type":"rect","clip":true,"stroke":"#000000","strokeWidth":0.8,"height":{"expr":"datum.s=='HEAD'?7:17"}},"encoding":{
"x":{"field":"lx","type":"quantitative","axis":{"orient":"top","offset":13.6,"domain":true,"domainColor":"#d9d9d9","domainWidth":22.6,"grid":false,"labels":false,"ticks":false,"title":"Test: shallow regression fixed in #4440","titleX":186.5,"titleY":0,"titleAlign":"center","titleBaseline":"middle","titleAngle":0,"titleFontSize":12,"titleColor":"#1a1a1a","zindex":1}},
"x2":{"field":"lx2"},
"y":{"field":"ly","type":"quantitative","axis":null},
"color":{"field":"s","type":"nominal"}}},
{"data":{"name":"labs"},"transform":[{"filter":"datum.p=='A2'"}],"mark":{"type":"text","clip":true,"align":"left","baseline":"middle","dx":1.5},"encoding":{
"x":{"field":"lx","type":"quantitative","axis":{"orient":"top","offset":37.2,"domain":true,"domainColor":"#d9d9d9","domainWidth":22.6,"grid":false,"labels":false,"ticks":false,"title":"P.value: 8.71e-02","titleX":186.5,"titleY":0,"titleAlign":"center","titleBaseline":"middle","titleAngle":0,"titleFontSize":12,"titleColor":"#1a1a1a","zindex":1}},
"y":{"field":"ly","type":"quantitative","axis":null},
"text":{"field":"t"},
"size":{"condition":{"test":"datum.s=='HEAD'","value":4},"value":15},
"color":{"condition":{"test":"datum.s=='Before'||datum.s=='Regression'||datum.s=='Slow'","value":"#000000"},"value":"#ffffff"}}}
]},

{"width":373,"height":343,"resolve":{"axis":{"x":"independent","y":"independent"}},"layer":[
{"data":{"name":"lines"},"transform":[{"filter":"datum.p=='A3'"}],"mark":{"type":"line","strokeWidth":1.1,"clip":true},"encoding":{
"x":{"field":"N","type":"quantitative","scale":{"type":"log","domain":[3.524,2.767e10],"nice":false},"axis":{"orient":"bottom","values":[31.6228,1e3,31622.8,1e6,31622776.6,1e9],"grid":true,"gridWidth":{"condition":{"test":"abs(log(datum.value)/LN10/3-round(log(datum.value)/LN10/3))<0.01","value":1},"value":0.5},"labels":false,"ticks":false,"domain":false,"title":null,"zindex":0}},
"y":{"field":"m","type":"quantitative","scale":{"type":"log","domain":[0.2432,136100],"nice":false},"axis":{"orient":"left","values":[1,10,100,1e3,1e4,1e5],"grid":true,"gridWidth":{"condition":{"test":"abs((log(datum.value)/LN10-1)/2-round((log(datum.value)/LN10-1)/2))<0.01","value":1},"value":0.5},"labels":false,"ticks":false,"domain":false,"title":null,"zindex":0}},
"color":{"field":"s","type":"nominal","scale":{"domain":["HEAD","base","CRAN","Before","Regression","Fixed","Slow","Fast","Slower"],"range":["#1b9e77","#d95f02","#e7298a","#66a61e","#e6ab02","#a6761d","#e6ab02","#a6761d","#666666"]}}}},
{"data":{"name":"labs"},"transform":[{"filter":"datum.p=='A3'"},{"fold":["ax","lx"],"as":["k","xx"]},{"calculate":"datum.k=='ax'?datum.ay:datum.ly","as":"yy"}],"mark":{"type":"trail","clip":true,"color":"#000000"},"encoding":{
"x":{"field":"xx","type":"quantitative","axis":null},"y":{"field":"yy","type":"quantitative","axis":null},"detail":{"field":"s"},
"size":{"condition":[{"test":"datum.k=='ax'","value":1.2},{"test":"datum.s=='HEAD'","value":8.6}],"value":18.6}}},
{"data":{"name":"labs"},"transform":[{"filter":"datum.p=='A3'"},{"fold":["ax","lx"],"as":["k","xx"]},{"calculate":"datum.k=='ax'?datum.ay:datum.ly","as":"yy"}],"mark":{"type":"trail","clip":true},"encoding":{
"x":{"field":"xx","type":"quantitative","axis":{"orient":"top","offset":25.4,"domain":true,"domainColor":"#5a5a5a","domainWidth":48.2,"grid":false,"labels":false,"ticks":false,"title":null,"zindex":1}},
"y":{"field":"yy","type":"quantitative","axis":null},
"size":{"condition":[{"test":"datum.k=='ax'","value":0},{"test":"datum.s=='HEAD'","value":7}],"value":17},
"color":{"field":"s","type":"nominal"}}},
{"data":{"name":"labs"},"transform":[{"filter":"datum.p=='A3'"}],"mark":{"type":"rect","clip":true,"stroke":"#000000","strokeWidth":0.8,"height":{"expr":"datum.s=='HEAD'?7:17"}},"encoding":{
"x":{"field":"lx","type":"quantitative","axis":{"orient":"top","offset":13.6,"domain":true,"domainColor":"#d9d9d9","domainWidth":22.6,"grid":false,"labels":false,"ticks":false,"title":"Test: DT[,.SD] improved in #4501","titleX":186.5,"titleY":0,"titleAlign":"center","titleBaseline":"middle","titleAngle":0,"titleFontSize":12,"titleColor":"#1a1a1a","zindex":1}},
"x2":{"field":"lx2"},
"y":{"field":"ly","type":"quantitative","axis":null},
"color":{"field":"s","type":"nominal"}}},
{"data":{"name":"labs"},"transform":[{"filter":"datum.p=='A3'"}],"mark":{"type":"text","clip":true,"align":"left","baseline":"middle","dx":1.5},"encoding":{
"x":{"field":"lx","type":"quantitative","axis":{"orient":"top","offset":37.2,"domain":true,"domainColor":"#d9d9d9","domainWidth":22.6,"grid":false,"labels":false,"ticks":false,"title":"P.value: 1.41e-01","titleX":186.5,"titleY":0,"titleAlign":"center","titleBaseline":"middle","titleAngle":0,"titleFontSize":12,"titleColor":"#1a1a1a","zindex":1}},
"y":{"field":"ly","type":"quantitative","axis":null},
"text":{"field":"t"},
"size":{"condition":{"test":"datum.s=='HEAD'","value":4},"value":15},
"color":{"condition":{"test":"datum.s=='Before'||datum.s=='Regression'||datum.s=='Slow'","value":"#000000"},"value":"#ffffff"}}}
]},

{"width":373,"height":343,"resolve":{"axis":{"x":"independent","y":"independent"}},"layer":[
{"data":{"name":"lines"},"transform":[{"filter":"datum.p=='A4'"}],"mark":{"type":"line","strokeWidth":1.1,"clip":true},"encoding":{
"x":{"field":"N","type":"quantitative","scale":{"type":"log","domain":[5.012,1.972e7],"nice":false},"axis":{"orient":"bottom","values":[10,100,1e3,1e4,1e5,1e6,1e7],"grid":true,"gridWidth":{"condition":{"test":"abs(log(datum.value)/LN10/2-round(log(datum.value)/LN10/2))<0.01","value":1},"value":0.5},"labels":false,"ticks":false,"domain":false,"title":null,"zindex":0}},
"y":{"field":"m","type":"quantitative","scale":{"type":"log","domain":[0.2432,136100],"nice":false},"axis":{"orient":"left","values":[1,10,100,1e3,1e4,1e5],"grid":true,"gridWidth":{"condition":{"test":"abs((log(datum.value)/LN10-1)/2-round((log(datum.value)/LN10-1)/2))<0.01","value":1},"value":0.5},"labels":false,"ticks":false,"domain":false,"title":null,"zindex":0}},
"color":{"field":"s","type":"nominal","scale":{"domain":["HEAD","base","CRAN","Before","Regression","Fixed","Slow","Fast","Slower"],"range":["#1b9e77","#d95f02","#e7298a","#66a61e","#e6ab02","#a6761d","#e6ab02","#a6761d","#666666"]}}}},
{"data":{"name":"labs"},"transform":[{"filter":"datum.p=='A4'"},{"fold":["ax","lx"],"as":["k","xx"]},{"calculate":"datum.k=='ax'?datum.ay:datum.ly","as":"yy"}],"mark":{"type":"trail","clip":true,"color":"#000000"},"encoding":{
"x":{"field":"xx","type":"quantitative","axis":null},"y":{"field":"yy","type":"quantitative","axis":null},"detail":{"field":"s"},
"size":{"condition":[{"test":"datum.k=='ax'","value":1.2},{"test":"datum.s=='HEAD'","value":8.6}],"value":18.6}}},
{"data":{"name":"labs"},"transform":[{"filter":"datum.p=='A4'"},{"fold":["ax","lx"],"as":["k","xx"]},{"calculate":"datum.k=='ax'?datum.ay:datum.ly","as":"yy"}],"mark":{"type":"trail","clip":true},"encoding":{
"x":{"field":"xx","type":"quantitative","axis":{"orient":"top","offset":25.4,"domain":true,"domainColor":"#5a5a5a","domainWidth":48.2,"grid":false,"labels":false,"ticks":false,"title":null,"zindex":1}},
"y":{"field":"yy","type":"quantitative","axis":null},
"size":{"condition":[{"test":"datum.k=='ax'","value":0},{"test":"datum.s=='HEAD'","value":7}],"value":17},
"color":{"field":"s","type":"nominal"}}},
{"data":{"name":"labs"},"transform":[{"filter":"datum.p=='A4'"}],"mark":{"type":"rect","clip":true,"stroke":"#000000","strokeWidth":0.8,"height":{"expr":"datum.s=='HEAD'?7:17"}},"encoding":{
"x":{"field":"lx","type":"quantitative","axis":{"orient":"top","offset":13.6,"domain":true,"domainColor":"#d9d9d9","domainWidth":22.6,"grid":false,"labels":false,"ticks":false,"title":"Test: DT[by] fixed in #4558","titleX":186.5,"titleY":0,"titleAlign":"center","titleBaseline":"middle","titleAngle":0,"titleFontSize":12,"titleColor":"#1a1a1a","zindex":1}},
"x2":{"field":"lx2"},
"y":{"field":"ly","type":"quantitative","axis":null},
"color":{"field":"s","type":"nominal"}}},
{"data":{"name":"labs"},"transform":[{"filter":"datum.p=='A4'"}],"mark":{"type":"text","clip":true,"align":"left","baseline":"middle","dx":1.5},"encoding":{
"x":{"field":"lx","type":"quantitative","axis":{"orient":"top","offset":37.2,"domain":true,"domainColor":"#d9d9d9","domainWidth":22.6,"grid":false,"labels":false,"ticks":false,"title":"P.value: 1.91e-01","titleX":186.5,"titleY":0,"titleAlign":"center","titleBaseline":"middle","titleAngle":0,"titleFontSize":12,"titleColor":"#1a1a1a","zindex":1}},
"y":{"field":"ly","type":"quantitative","axis":null},
"text":{"field":"t"},
"size":{"condition":{"test":"datum.s=='HEAD'","value":4},"value":15},
"color":{"condition":{"test":"datum.s=='Before'||datum.s=='Regression'||datum.s=='Slow'","value":"#000000"},"value":"#ffffff"}}}
]},

{"width":373,"height":343,"resolve":{"axis":{"x":"independent","y":"independent"}},"layer":[
{"data":{"name":"lines"},"transform":[{"filter":"datum.p=='A5'"}],"mark":{"type":"line","strokeWidth":1.1,"clip":true},"encoding":{
"x":{"field":"N","type":"quantitative","scale":{"type":"log","domain":[4.285,7.362e8],"nice":false},"axis":{"orient":"bottom","values":[10,100,1e3,1e4,1e5,1e6,1e7,1e8],"grid":true,"gridWidth":{"condition":{"test":"abs(log(datum.value)/LN10/2-round(log(datum.value)/LN10/2))<0.01","value":1},"value":0.5},"labels":false,"ticks":false,"domain":false,"title":null,"zindex":0}},
"y":{"field":"m","type":"quantitative","scale":{"type":"log","domain":[0.2432,136100],"nice":false},"axis":{"orient":"left","values":[1,10,100,1e3,1e4,1e5],"grid":true,"gridWidth":{"condition":{"test":"abs((log(datum.value)/LN10-1)/2-round((log(datum.value)/LN10-1)/2))<0.01","value":1},"value":0.5},"labels":false,"ticks":false,"domain":false,"title":null,"zindex":0}},
"color":{"field":"s","type":"nominal","scale":{"domain":["HEAD","base","CRAN","Before","Regression","Fixed","Slow","Fast","Slower"],"range":["#1b9e77","#d95f02","#e7298a","#66a61e","#e6ab02","#a6761d","#e6ab02","#a6761d","#666666"]}}}},
{"data":{"name":"labs"},"transform":[{"filter":"datum.p=='A5'"},{"fold":["ax","lx"],"as":["k","xx"]},{"calculate":"datum.k=='ax'?datum.ay:datum.ly","as":"yy"}],"mark":{"type":"trail","clip":true,"color":"#000000"},"encoding":{
"x":{"field":"xx","type":"quantitative","axis":null},"y":{"field":"yy","type":"quantitative","axis":null},"detail":{"field":"s"},
"size":{"condition":[{"test":"datum.k=='ax'","value":1.2},{"test":"datum.s=='HEAD'","value":8.6}],"value":18.6}}},
{"data":{"name":"labs"},"transform":[{"filter":"datum.p=='A5'"},{"fold":["ax","lx"],"as":["k","xx"]},{"calculate":"datum.k=='ax'?datum.ay:datum.ly","as":"yy"}],"mark":{"type":"trail","clip":true},"encoding":{
"x":{"field":"xx","type":"quantitative","axis":{"orient":"top","offset":25.4,"domain":true,"domainColor":"#5a5a5a","domainWidth":48.2,"grid":false,"labels":false,"ticks":false,"title":null,"zindex":1}},
"y":{"field":"yy","type":"quantitative","axis":{"orient":"right","offset":12.4,"domain":true,"domainColor":"#5a5a5a","domainWidth":23.4,"grid":false,"labels":false,"ticks":false,"title":null,"zindex":1}},
"size":{"condition":[{"test":"datum.k=='ax'","value":0},{"test":"datum.s=='HEAD'","value":7}],"value":17},
"color":{"field":"s","type":"nominal"}}},
{"data":{"name":"labs"},"transform":[{"filter":"datum.p=='A5'"}],"mark":{"type":"rect","clip":true,"stroke":"#000000","strokeWidth":0.8,"height":{"expr":"datum.s=='HEAD'?7:17"}},"encoding":{
"x":{"field":"lx","type":"quantitative","axis":{"orient":"top","offset":13.6,"domain":true,"domainColor":"#d9d9d9","domainWidth":22.6,"grid":false,"labels":false,"ticks":false,"title":"Test: setDT improved in #5427","titleX":186.5,"titleY":0,"titleAlign":"center","titleBaseline":"middle","titleAngle":0,"titleFontSize":12,"titleColor":"#1a1a1a","zindex":1}},
"x2":{"field":"lx2"},
"y":{"field":"ly","type":"quantitative","axis":{"orient":"right","offset":12.4,"domain":true,"domainColor":"#d9d9d9","domainWidth":21.6,"grid":false,"labels":false,"ticks":false,"title":"unit: kilobytes","titleX":0,"titleY":171.5,"titleAlign":"center","titleBaseline":"middle","titleAngle":90,"titleFontSize":12,"titleColor":"#1a1a1a","zindex":1}},
"color":{"field":"s","type":"nominal"}}},
{"data":{"name":"labs"},"transform":[{"filter":"datum.p=='A5'"}],"mark":{"type":"text","clip":true,"align":"left","baseline":"middle","dx":1.5},"encoding":{
"x":{"field":"lx","type":"quantitative","axis":{"orient":"top","offset":37.2,"domain":true,"domainColor":"#d9d9d9","domainWidth":22.6,"grid":false,"labels":false,"ticks":false,"title":"P.value: 3.18e-01","titleX":186.5,"titleY":0,"titleAlign":"center","titleBaseline":"middle","titleAngle":0,"titleFontSize":12,"titleColor":"#1a1a1a","zindex":1}},
"y":{"field":"ly","type":"quantitative","axis":null},
"text":{"field":"t"},
"size":{"condition":{"test":"datum.s=='HEAD'","value":4},"value":15},
"color":{"condition":{"test":"datum.s=='Before'||datum.s=='Regression'||datum.s=='Slow'","value":"#000000"},"value":"#ffffff"}}}
]},

{"width":373,"height":344,"resolve":{"axis":{"x":"independent","y":"independent"}},"layer":[
{"data":{"values":[{}]},"mark":{"type":"rule","color":"#b3b3b3","strokeWidth":1},"encoding":{"y":{"datum":0.01,"type":"quantitative","axis":null}}},
{"data":{"name":"lines"},"transform":[{"filter":"datum.p=='B1'"}],"mark":{"type":"line","strokeWidth":1.1,"clip":true},"encoding":{
"x":{"field":"N","type":"quantitative","scale":{"type":"log","domain":[507,1.941e9],"nice":false},"axis":{"orient":"bottom","values":[1e3,1e4,1e5,1e6,1e7,1e8,1e9],"grid":true,"gridWidth":{"condition":{"test":"abs(log(datum.value)/LN10/2-round(log(datum.value)/LN10/2))<0.01","value":1},"value":0.5},"tickOpacity":{"condition":{"test":"abs(log(datum.value)/LN10/2-round(log(datum.value)/LN10/2))<0.01","value":1},"value":0},"labelExpr":"abs(log(datum.value)/LN10/2-round(log(datum.value)/LN10/2))<0.01?'1e'+(round(log(datum.value)/LN10)<0?'-':'+')+(abs(round(log(datum.value)/LN10))<10?'0':'')+abs(round(log(datum.value)/LN10)):''","labelOverlap":false,"labelFlush":false,"domain":false,"title":null,"zindex":0}},
"y":{"field":"m","type":"quantitative","scale":{"type":"log","domain":[3.184e-6,0.707],"nice":false},"axis":{"orient":"left","values":[1e-5,3.16228e-5,1e-4,3.16228e-4,1e-3,3.16228e-3,1e-2,3.16228e-2,1e-1,3.16228e-1],"grid":true,"gridWidth":{"condition":{"test":"abs(log(datum.value)/LN10-round(log(datum.value)/LN10))<0.01","value":1},"value":0.5},"tickOpacity":{"condition":{"test":"abs(log(datum.value)/LN10-round(log(datum.value)/LN10))<0.01","value":1},"value":0},"labelExpr":"abs(log(datum.value)/LN10-round(log(datum.value)/LN10))<0.01?'1e'+(round(log(datum.value)/LN10)<0?'-':'+')+(abs(round(log(datum.value)/LN10))<10?'0':'')+abs(round(log(datum.value)/LN10)):''","labelOverlap":false,"labelFlush":false,"domain":false,"title":"median line, quartiles band","titleX":-58,"titleY":-4,"titleAngle":-90,"titleAlign":"center","titleBaseline":"top","zindex":0}},
"color":{"field":"s","type":"nominal","scale":{"domain":["HEAD","base","CRAN","Before","Regression","Fixed","Slow","Fast","Slower"],"range":["#1b9e77","#d95f02","#e7298a","#66a61e","#e6ab02","#a6761d","#e6ab02","#a6761d","#666666"]}}}},
{"data":{"name":"pts"},"transform":[{"filter":"datum.p=='B1'"}],"mark":{"type":"point","shape":"circle","filled":false,"size":22,"strokeWidth":1,"clip":true},"encoding":{"x":{"field":"N","type":"quantitative","axis":null},"y":{"field":"v","type":"quantitative","axis":null},"color":{"field":"s","type":"nominal"}}},
{"data":{"name":"labs"},"transform":[{"filter":"datum.p=='B1'"},{"fold":["ax","lx"],"as":["k","xx"]},{"calculate":"datum.k=='ax'?datum.ay:datum.ly","as":"yy"}],"mark":{"type":"trail","clip":true,"color":"#000000"},"encoding":{
"x":{"field":"xx","type":"quantitative","axis":null},"y":{"field":"yy","type":"quantitative","axis":null},"detail":{"field":"s"},
"size":{"condition":[{"test":"datum.k=='ax'","value":1.2},{"test":"datum.s=='HEAD'","value":8.6}],"value":18.6}}},
{"data":{"name":"labs"},"transform":[{"filter":"datum.p=='B1'"},{"fold":["ax","lx"],"as":["k","xx"]},{"calculate":"datum.k=='ax'?datum.ay:datum.ly","as":"yy"}],"mark":{"type":"trail","clip":true},"encoding":{
"x":{"field":"xx","type":"quantitative","axis":null},
"y":{"field":"yy","type":"quantitative","axis":null},
"size":{"condition":[{"test":"datum.k=='ax'","value":0},{"test":"datum.s=='HEAD'","value":7}],"value":17},
"color":{"field":"s","type":"nominal"}}},
{"data":{"name":"labs"},"transform":[{"filter":"datum.p=='B1'"}],"mark":{"type":"rect","clip":true,"stroke":"#000000","strokeWidth":0.8,"height":{"expr":"datum.s=='HEAD'?7:17"}},"encoding":{
"x":{"field":"lx","type":"quantitative","axis":null},"x2":{"field":"lx2"},
"y":{"field":"ly","type":"quantitative","axis":null},
"color":{"field":"s","type":"nominal"}}},
{"data":{"name":"labs"},"transform":[{"filter":"datum.p=='B1'"}],"mark":{"type":"text","clip":true,"align":"left","baseline":"middle","dx":1.5},"encoding":{
"x":{"field":"lx","type":"quantitative","axis":null},
"y":{"field":"ly","type":"quantitative","axis":null},
"text":{"field":"t"},
"size":{"condition":{"test":"datum.s=='HEAD'","value":4},"value":15},
"color":{"condition":{"test":"datum.s=='Before'||datum.s=='Regression'||datum.s=='Slow'","value":"#000000"},"value":"#ffffff"}}}
]},

{"width":373,"height":344,"resolve":{"axis":{"x":"independent","y":"independent"}},"layer":[
{"data":{"name":"lines"},"transform":[{"filter":"datum.p=='B2' && isValid(datum.lo)"}],"mark":{"type":"area","opacity":0.5,"clip":true},"encoding":{"x":{"field":"N","type":"quantitative","axis":null},"y":{"field":"lo","type":"quantitative","axis":null},"y2":{"field":"hi"},"color":{"field":"s","type":"nominal"}}},
{"data":{"values":[{}]},"mark":{"type":"rule","color":"#b3b3b3","strokeWidth":1},"encoding":{"y":{"datum":0.01,"type":"quantitative","axis":null}}},
{"data":{"name":"lines"},"transform":[{"filter":"datum.p=='B2'"}],"mark":{"type":"line","strokeWidth":1.1,"clip":true},"encoding":{
"x":{"field":"N","type":"quantitative","scale":{"type":"log","domain":[435.5,7.516e10],"nice":false},"axis":{"orient":"bottom","values":[1e3,1e4,1e5,1e6,1e7,1e8,1e9,1e10],"grid":true,"gridWidth":{"condition":{"test":"abs(log(datum.value)/LN10/2-round(log(datum.value)/LN10/2))<0.01","value":1},"value":0.5},"tickOpacity":{"condition":{"test":"abs(log(datum.value)/LN10/2-round(log(datum.value)/LN10/2))<0.01","value":1},"value":0},"labelExpr":"abs(log(datum.value)/LN10/2-round(log(datum.value)/LN10/2))<0.01?'1e'+(round(log(datum.value)/LN10)<0?'-':'+')+(abs(round(log(datum.value)/LN10))<10?'0':'')+abs(round(log(datum.value)/LN10)):''","labelOverlap":false,"labelFlush":false,"domain":false,"title":null,"zindex":0}},
"y":{"field":"m","type":"quantitative","scale":{"type":"log","domain":[3.184e-6,0.707],"nice":false},"axis":{"orient":"left","values":[1e-5,3.16228e-5,1e-4,3.16228e-4,1e-3,3.16228e-3,1e-2,3.16228e-2,1e-1,3.16228e-1],"grid":true,"gridWidth":{"condition":{"test":"abs(log(datum.value)/LN10-round(log(datum.value)/LN10))<0.01","value":1},"value":0.5},"labels":false,"ticks":false,"domain":false,"title":null,"zindex":0}},
"color":{"field":"s","type":"nominal","scale":{"domain":["HEAD","base","CRAN","Before","Regression","Fixed","Slow","Fast","Slower"],"range":["#1b9e77","#d95f02","#e7298a","#66a61e","#e6ab02","#a6761d","#e6ab02","#a6761d","#666666"]}}}},
{"data":{"name":"pts"},"transform":[{"filter":"datum.p=='B2'"}],"mark":{"type":"point","shape":"circle","filled":false,"size":22,"strokeWidth":1,"clip":true},"encoding":{"x":{"field":"N","type":"quantitative","axis":null},"y":{"field":"v","type":"quantitative","axis":null},"color":{"field":"s","type":"nominal"}}},
{"data":{"name":"labs"},"transform":[{"filter":"datum.p=='B2'"},{"fold":["ax","lx"],"as":["k","xx"]},{"calculate":"datum.k=='ax'?datum.ay:datum.ly","as":"yy"}],"mark":{"type":"trail","clip":true,"color":"#000000"},"encoding":{
"x":{"field":"xx","type":"quantitative","axis":null},"y":{"field":"yy","type":"quantitative","axis":null},"detail":{"field":"s"},
"size":{"condition":[{"test":"datum.k=='ax'","value":1.2},{"test":"datum.s=='HEAD'","value":8.6}],"value":18.6}}},
{"data":{"name":"labs"},"transform":[{"filter":"datum.p=='B2'"},{"fold":["ax","lx"],"as":["k","xx"]},{"calculate":"datum.k=='ax'?datum.ay:datum.ly","as":"yy"}],"mark":{"type":"trail","clip":true},"encoding":{
"x":{"field":"xx","type":"quantitative","axis":null},
"y":{"field":"yy","type":"quantitative","axis":null},
"size":{"condition":[{"test":"datum.k=='ax'","value":0},{"test":"datum.s=='HEAD'","value":7}],"value":17},
"color":{"field":"s","type":"nominal"}}},
{"data":{"name":"labs"},"transform":[{"filter":"datum.p=='B2'"}],"mark":{"type":"rect","clip":true,"stroke":"#000000","strokeWidth":0.8,"height":{"expr":"datum.s=='HEAD'?7:17"}},"encoding":{
"x":{"field":"lx","type":"quantitative","axis":null},"x2":{"field":"lx2"},
"y":{"field":"ly","type":"quantitative","axis":null},
"color":{"field":"s","type":"nominal"}}},
{"data":{"name":"labs"},"transform":[{"filter":"datum.p=='B2'"}],"mark":{"type":"text","clip":true,"align":"left","baseline":"middle","dx":1.5},"encoding":{
"x":{"field":"lx","type":"quantitative","axis":null},
"y":{"field":"ly","type":"quantitative","axis":null},
"text":{"field":"t"},
"size":{"condition":{"test":"datum.s=='HEAD'","value":4},"value":15},
"color":{"condition":{"test":"datum.s=='Before'||datum.s=='Regression'||datum.s=='Slow'","value":"#000000"},"value":"#ffffff"}}}
]},

{"width":373,"height":344,"resolve":{"axis":{"x":"independent","y":"independent"}},"layer":[
{"data":{"name":"lines"},"transform":[{"filter":"datum.p=='B3' && isValid(datum.lo)"}],"mark":{"type":"area","opacity":0.5,"clip":true},"encoding":{"x":{"field":"N","type":"quantitative","axis":null},"y":{"field":"lo","type":"quantitative","axis":null},"y2":{"field":"hi"},"color":{"field":"s","type":"nominal"}}},
{"data":{"values":[{}]},"mark":{"type":"rule","color":"#b3b3b3","strokeWidth":1},"encoding":{"y":{"datum":0.01,"type":"quantitative","axis":null}}},
{"data":{"name":"lines"},"transform":[{"filter":"datum.p=='B3'"}],"mark":{"type":"line","strokeWidth":1.1,"clip":true},"encoding":{
"x":{"field":"N","type":"quantitative","scale":{"type":"log","domain":[3.524,2.767e10],"nice":false},"axis":{"orient":"bottom","values":[31.6228,1e3,31622.8,1e6,31622776.6,1e9],"grid":true,"gridWidth":{"condition":{"test":"abs(log(datum.value)/LN10/3-round(log(datum.value)/LN10/3))<0.01","value":1},"value":0.5},"tickOpacity":{"condition":{"test":"abs(log(datum.value)/LN10/3-round(log(datum.value)/LN10/3))<0.01","value":1},"value":0},"labelExpr":"abs(log(datum.value)/LN10/3-round(log(datum.value)/LN10/3))<0.01?'1e'+(round(log(datum.value)/LN10)<0?'-':'+')+(abs(round(log(datum.value)/LN10))<10?'0':'')+abs(round(log(datum.value)/LN10)):''","labelOverlap":false,"labelFlush":false,"domain":false,"title":"N","titlePadding":7,"zindex":0}},
"y":{"field":"m","type":"quantitative","scale":{"type":"log","domain":[3.184e-6,0.707],"nice":false},"axis":{"orient":"left","values":[1e-5,3.16228e-5,1e-4,3.16228e-4,1e-3,3.16228e-3,1e-2,3.16228e-2,1e-1,3.16228e-1],"grid":true,"gridWidth":{"condition":{"test":"abs(log(datum.value)/LN10-round(log(datum.value)/LN10))<0.01","value":1},"value":0.5},"labels":false,"ticks":false,"domain":false,"title":null,"zindex":0}},
"color":{"field":"s","type":"nominal","scale":{"domain":["HEAD","base","CRAN","Before","Regression","Fixed","Slow","Fast","Slower"],"range":["#1b9e77","#d95f02","#e7298a","#66a61e","#e6ab02","#a6761d","#e6ab02","#a6761d","#666666"]}}}},
{"data":{"name":"pts"},"transform":[{"filter":"datum.p=='B3'"}],"mark":{"type":"point","shape":"circle","filled":false,"size":22,"strokeWidth":1,"clip":true},"encoding":{"x":{"field":"N","type":"quantitative","axis":null},"y":{"field":"v","type":"quantitative","axis":null},"color":{"field":"s","type":"nominal"}}},
{"data":{"name":"labs"},"transform":[{"filter":"datum.p=='B3'"},{"fold":["ax","lx"],"as":["k","xx"]},{"calculate":"datum.k=='ax'?datum.ay:datum.ly","as":"yy"}],"mark":{"type":"trail","clip":true,"color":"#000000"},"encoding":{
"x":{"field":"xx","type":"quantitative","axis":null},"y":{"field":"yy","type":"quantitative","axis":null},"detail":{"field":"s"},
"size":{"condition":[{"test":"datum.k=='ax'","value":1.2},{"test":"datum.s=='HEAD'","value":8.6}],"value":18.6}}},
{"data":{"name":"labs"},"transform":[{"filter":"datum.p=='B3'"},{"fold":["ax","lx"],"as":["k","xx"]},{"calculate":"datum.k=='ax'?datum.ay:datum.ly","as":"yy"}],"mark":{"type":"trail","clip":true},"encoding":{
"x":{"field":"xx","type":"quantitative","axis":null},
"y":{"field":"yy","type":"quantitative","axis":null},
"size":{"condition":[{"test":"datum.k=='ax'","value":0},{"test":"datum.s=='HEAD'","value":7}],"value":17},
"color":{"field":"s","type":"nominal"}}},
{"data":{"name":"labs"},"transform":[{"filter":"datum.p=='B3'"}],"mark":{"type":"rect","clip":true,"stroke":"#000000","strokeWidth":0.8,"height":{"expr":"datum.s=='HEAD'?7:17"}},"encoding":{
"x":{"field":"lx","type":"quantitative","axis":null},"x2":{"field":"lx2"},
"y":{"field":"ly","type":"quantitative","axis":null},
"color":{"field":"s","type":"nominal"}}},
{"data":{"name":"labs"},"transform":[{"filter":"datum.p=='B3'"}],"mark":{"type":"text","clip":true,"align":"left","baseline":"middle","dx":1.5},"encoding":{
"x":{"field":"lx","type":"quantitative","axis":null},
"y":{"field":"ly","type":"quantitative","axis":null},
"text":{"field":"t"},
"size":{"condition":{"test":"datum.s=='HEAD'","value":4},"value":15},
"color":{"condition":{"test":"datum.s=='Before'||datum.s=='Regression'||datum.s=='Slow'","value":"#000000"},"value":"#ffffff"}}}
]},

{"width":373,"height":344,"resolve":{"axis":{"x":"independent","y":"independent"}},"layer":[
{"data":{"name":"lines"},"transform":[{"filter":"datum.p=='B4' && isValid(datum.lo)"}],"mark":{"type":"area","opacity":0.5,"clip":true},"encoding":{"x":{"field":"N","type":"quantitative","axis":null},"y":{"field":"lo","type":"quantitative","axis":null},"y2":{"field":"hi"},"color":{"field":"s","type":"nominal"}}},
{"data":{"values":[{}]},"mark":{"type":"rule","color":"#b3b3b3","strokeWidth":1},"encoding":{"y":{"datum":0.01,"type":"quantitative","axis":null}}},
{"data":{"name":"lines"},"transform":[{"filter":"datum.p=='B4'"}],"mark":{"type":"line","strokeWidth":1.1,"clip":true},"encoding":{
"x":{"field":"N","type":"quantitative","scale":{"type":"log","domain":[5.012,1.972e7],"nice":false},"axis":{"orient":"bottom","values":[10,100,1e3,1e4,1e5,1e6,1e7],"grid":true,"gridWidth":{"condition":{"test":"abs(log(datum.value)/LN10/2-round(log(datum.value)/LN10/2))<0.01","value":1},"value":0.5},"tickOpacity":{"condition":{"test":"abs(log(datum.value)/LN10/2-round(log(datum.value)/LN10/2))<0.01","value":1},"value":0},"labelExpr":"abs(log(datum.value)/LN10/2-round(log(datum.value)/LN10/2))<0.01?'1e'+(round(log(datum.value)/LN10)<0?'-':'+')+(abs(round(log(datum.value)/LN10))<10?'0':'')+abs(round(log(datum.value)/LN10)):''","labelOverlap":false,"labelFlush":false,"domain":false,"title":null,"zindex":0}},
"y":{"field":"m","type":"quantitative","scale":{"type":"log","domain":[3.184e-6,0.707],"nice":false},"axis":{"orient":"left","values":[1e-5,3.16228e-5,1e-4,3.16228e-4,1e-3,3.16228e-3,1e-2,3.16228e-2,1e-1,3.16228e-1],"grid":true,"gridWidth":{"condition":{"test":"abs(log(datum.value)/LN10-round(log(datum.value)/LN10))<0.01","value":1},"value":0.5},"labels":false,"ticks":false,"domain":false,"title":null,"zindex":0}},
"color":{"field":"s","type":"nominal","scale":{"domain":["HEAD","base","CRAN","Before","Regression","Fixed","Slow","Fast","Slower"],"range":["#1b9e77","#d95f02","#e7298a","#66a61e","#e6ab02","#a6761d","#e6ab02","#a6761d","#666666"]}}}},
{"data":{"name":"pts"},"transform":[{"filter":"datum.p=='B4'"}],"mark":{"type":"point","shape":"circle","filled":false,"size":22,"strokeWidth":1,"clip":true},"encoding":{"x":{"field":"N","type":"quantitative","axis":null},"y":{"field":"v","type":"quantitative","axis":null},"color":{"field":"s","type":"nominal"}}},
{"data":{"name":"labs"},"transform":[{"filter":"datum.p=='B4'"},{"fold":["ax","lx"],"as":["k","xx"]},{"calculate":"datum.k=='ax'?datum.ay:datum.ly","as":"yy"}],"mark":{"type":"trail","clip":true,"color":"#000000"},"encoding":{
"x":{"field":"xx","type":"quantitative","axis":null},"y":{"field":"yy","type":"quantitative","axis":null},"detail":{"field":"s"},
"size":{"condition":[{"test":"datum.k=='ax'","value":1.2},{"test":"datum.s=='HEAD'","value":8.6}],"value":18.6}}},
{"data":{"name":"labs"},"transform":[{"filter":"datum.p=='B4'"},{"fold":["ax","lx"],"as":["k","xx"]},{"calculate":"datum.k=='ax'?datum.ay:datum.ly","as":"yy"}],"mark":{"type":"trail","clip":true},"encoding":{
"x":{"field":"xx","type":"quantitative","axis":null},
"y":{"field":"yy","type":"quantitative","axis":null},
"size":{"condition":[{"test":"datum.k=='ax'","value":0},{"test":"datum.s=='HEAD'","value":7}],"value":17},
"color":{"field":"s","type":"nominal"}}},
{"data":{"name":"labs"},"transform":[{"filter":"datum.p=='B4'"}],"mark":{"type":"rect","clip":true,"stroke":"#000000","strokeWidth":0.8,"height":{"expr":"datum.s=='HEAD'?7:17"}},"encoding":{
"x":{"field":"lx","type":"quantitative","axis":null},"x2":{"field":"lx2"},
"y":{"field":"ly","type":"quantitative","axis":null},
"color":{"field":"s","type":"nominal"}}},
{"data":{"name":"labs"},"transform":[{"filter":"datum.p=='B4'"}],"mark":{"type":"text","clip":true,"align":"left","baseline":"middle","dx":1.5},"encoding":{
"x":{"field":"lx","type":"quantitative","axis":null},
"y":{"field":"ly","type":"quantitative","axis":null},
"text":{"field":"t"},
"size":{"condition":{"test":"datum.s=='HEAD'","value":4},"value":15},
"color":{"condition":{"test":"datum.s=='Before'||datum.s=='Regression'||datum.s=='Slow'","value":"#000000"},"value":"#ffffff"}}}
]},

{"width":373,"height":344,"resolve":{"axis":{"x":"independent","y":"independent"}},"layer":[
{"data":{"name":"lines"},"transform":[{"filter":"datum.p=='B5' && isValid(datum.lo)"}],"mark":{"type":"area","opacity":0.5,"clip":true},"encoding":{"x":{"field":"N","type":"quantitative","axis":null},"y":{"field":"lo","type":"quantitative","axis":null},"y2":{"field":"hi"},"color":{"field":"s","type":"nominal"}}},
{"data":{"values":[{}]},"mark":{"type":"rule","color":"#b3b3b3","strokeWidth":1},"encoding":{"y":{"datum":0.01,"type":"quantitative","axis":null}}},
{"data":{"name":"lines"},"transform":[{"filter":"datum.p=='B5'"}],"mark":{"type":"line","strokeWidth":1.1,"clip":true},"encoding":{
"x":{"field":"N","type":"quantitative","scale":{"type":"log","domain":[4.285,7.362e8],"nice":false},"axis":{"orient":"bottom","values":[10,100,1e3,1e4,1e5,1e6,1e7,1e8],"grid":true,"gridWidth":{"condition":{"test":"abs(log(datum.value)/LN10/2-round(log(datum.value)/LN10/2))<0.01","value":1},"value":0.5},"tickOpacity":{"condition":{"test":"abs(log(datum.value)/LN10/2-round(log(datum.value)/LN10/2))<0.01","value":1},"value":0},"labelExpr":"abs(log(datum.value)/LN10/2-round(log(datum.value)/LN10/2))<0.01?'1e'+(round(log(datum.value)/LN10)<0?'-':'+')+(abs(round(log(datum.value)/LN10))<10?'0':'')+abs(round(log(datum.value)/LN10)):''","labelOverlap":false,"labelFlush":false,"domain":false,"title":null,"zindex":0}},
"y":{"field":"m","type":"quantitative","scale":{"type":"log","domain":[3.184e-6,0.707],"nice":false},"axis":{"orient":"left","values":[1e-5,3.16228e-5,1e-4,3.16228e-4,1e-3,3.16228e-3,1e-2,3.16228e-2,1e-1,3.16228e-1],"grid":true,"gridWidth":{"condition":{"test":"abs(log(datum.value)/LN10-round(log(datum.value)/LN10))<0.01","value":1},"value":0.5},"labels":false,"ticks":false,"domain":false,"title":null,"zindex":0}},
"color":{"field":"s","type":"nominal","scale":{"domain":["HEAD","base","CRAN","Before","Regression","Fixed","Slow","Fast","Slower"],"range":["#1b9e77","#d95f02","#e7298a","#66a61e","#e6ab02","#a6761d","#e6ab02","#a6761d","#666666"]}}}},
{"data":{"name":"pts"},"transform":[{"filter":"datum.p=='B5'"}],"mark":{"type":"point","shape":"circle","filled":false,"size":22,"strokeWidth":1,"clip":true},"encoding":{"x":{"field":"N","type":"quantitative","axis":null},"y":{"field":"v","type":"quantitative","axis":null},"color":{"field":"s","type":"nominal"}}},
{"data":{"name":"labs"},"transform":[{"filter":"datum.p=='B5'"},{"fold":["ax","lx"],"as":["k","xx"]},{"calculate":"datum.k=='ax'?datum.ay:datum.ly","as":"yy"}],"mark":{"type":"trail","clip":true,"color":"#000000"},"encoding":{
"x":{"field":"xx","type":"quantitative","axis":null},"y":{"field":"yy","type":"quantitative","axis":null},"detail":{"field":"s"},
"size":{"condition":[{"test":"datum.k=='ax'","value":1.2},{"test":"datum.s=='HEAD'","value":8.6}],"value":18.6}}},
{"data":{"name":"labs"},"transform":[{"filter":"datum.p=='B5'"},{"fold":["ax","lx"],"as":["k","xx"]},{"calculate":"datum.k=='ax'?datum.ay:datum.ly","as":"yy"}],"mark":{"type":"trail","clip":true},"encoding":{
"x":{"field":"xx","type":"quantitative","axis":null},
"y":{"field":"yy","type":"quantitative","axis":{"orient":"right","offset":12.4,"domain":true,"domainColor":"#5a5a5a","domainWidth":23.4,"grid":false,"labels":false,"ticks":false,"title":null,"zindex":1}},
"size":{"condition":[{"test":"datum.k=='ax'","value":0},{"test":"datum.s=='HEAD'","value":7}],"value":17},
"color":{"field":"s","type":"nominal"}}},
{"data":{"name":"labs"},"transform":[{"filter":"datum.p=='B5'"}],"mark":{"type":"rect","clip":true,"stroke":"#000000","strokeWidth":0.8,"height":{"expr":"datum.s=='HEAD'?7:17"}},"encoding":{
"x":{"field":"lx","type":"quantitative","axis":null},"x2":{"field":"lx2"},
"y":{"field":"ly","type":"quantitative","axis":{"orient":"right","offset":12.4,"domain":true,"domainColor":"#d9d9d9","domainWidth":21.6,"grid":false,"labels":false,"ticks":false,"title":"unit: seconds","titleX":0,"titleY":172,"titleAlign":"center","titleBaseline":"middle","titleAngle":90,"titleFontSize":12,"titleColor":"#1a1a1a","zindex":1}},
"color":{"field":"s","type":"nominal"}}},
{"data":{"name":"labs"},"transform":[{"filter":"datum.p=='B5'"}],"mark":{"type":"text","clip":true,"align":"left","baseline":"middle","dx":1.5},"encoding":{
"x":{"field":"lx","type":"quantitative","axis":null},
"y":{"field":"ly","type":"quantitative","axis":null},
"text":{"field":"t"},
"size":{"condition":{"test":"datum.s=='HEAD'","value":4},"value":15},
"color":{"condition":{"test":"datum.s=='Before'||datum.s=='Regression'||datum.s=='Slow'","value":"#000000"},"value":"#ffffff"}}}
]}
]
}
